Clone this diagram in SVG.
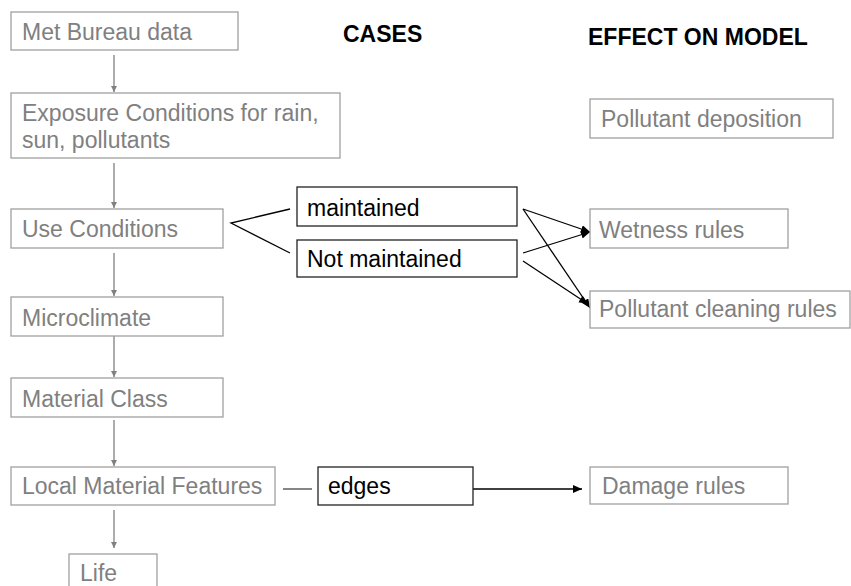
<svg xmlns="http://www.w3.org/2000/svg" width="851" height="586" viewBox="0 0 851 586">
<style>
text{font-family:"Liberation Sans",Arial,sans-serif;font-size:23px}
.g rect{fill:#fff;stroke:#a0a0a0;stroke-width:1.3}
.g text{fill:#808080}
.k rect{fill:#fff;stroke:#222;stroke-width:1.3}
.k text{fill:#000}
.h{font-weight:bold;fill:#000}
.cg{stroke:#808080;stroke-width:1.3;fill:none}
.ck{stroke:#000;stroke-width:1.3;fill:none}
</style>
<defs>
<marker id="ag" markerWidth="8" markerHeight="8" refX="6" refY="3" orient="auto" markerUnits="userSpaceOnUse" viewBox="0 0 8 8"><path d="M0,0 L6,3 L0,6 z" fill="#808080"/></marker>
<marker id="ak" markerWidth="12" markerHeight="10" refX="9" refY="4" orient="auto" markerUnits="userSpaceOnUse" viewBox="0 0 12 10"><path d="M0,0 L9,4 L0,8 z" fill="#000"/></marker>
</defs>
<text class="h" x="343" y="42">CASES</text>
<text class="h" x="588" y="45">EFFECT ON MODEL</text>
<g id="connectors">
<line class="cg" x1="114" y1="55" x2="114" y2="92" marker-end="url(#ag)"/>
<line class="cg" x1="114" y1="163" x2="114" y2="208" marker-end="url(#ag)"/>
<line class="cg" x1="114" y1="253" x2="114" y2="296" marker-end="url(#ag)"/>
<line class="cg" x1="114" y1="336" x2="114" y2="377" marker-end="url(#ag)"/>
<line class="cg" x1="114" y1="420" x2="114" y2="466" marker-end="url(#ag)"/>
<line class="cg" x1="114" y1="510" x2="114" y2="548" marker-end="url(#ag)"/>
<polyline class="ck" points="290,209 231,223 290,253"/>
<line class="cg" x1="283" y1="489" x2="312" y2="489" style="stroke:#444"/>
<line class="ck" x1="473" y1="489" x2="582" y2="489" marker-end="url(#ak)"/>
<line class="ck" x1="523" y1="209" x2="590" y2="232" marker-end="url(#ak)"/>
<line class="ck" x1="523" y1="209" x2="590" y2="308" marker-end="url(#ak)"/>
<line class="ck" x1="523" y1="253" x2="590" y2="232" marker-end="url(#ak)"/>
<line class="ck" x1="523" y1="261" x2="588" y2="304" marker-end="url(#ak)"/>
</g>
<g id="met" class="g"><rect x="11" y="12" width="227" height="38"/><text x="22" y="40">Met Bureau data</text></g>
<g id="exposure" class="g"><rect x="11" y="93" width="329" height="65"/><text x="22" y="121">Exposure Conditions for rain,</text><text x="22" y="148">sun, pollutants</text></g>
<g id="use" class="g"><rect x="11" y="209" width="212" height="39"/><text x="22" y="237">Use Conditions</text></g>
<g id="micro" class="g"><rect x="11" y="297" width="212" height="39"/><text x="22" y="326">Microclimate</text></g>
<g id="matclass" class="g"><rect x="11" y="378" width="212" height="39"/><text x="22" y="407">Material Class</text></g>
<g id="local" class="g"><rect x="11" y="467" width="264" height="38"/><text x="22" y="494">Local Material Features</text></g>
<g id="life" class="g"><rect x="69" y="554" width="88" height="40"/><text x="80" y="581">Life</text></g>
<g id="maintained" class="k"><rect x="297" y="187" width="220" height="39"/><text x="307" y="216">maintained</text></g>
<g id="notmaintained" class="k"><rect x="297" y="240" width="220" height="37"/><text x="307" y="267">Not maintained</text></g>
<g id="edges" class="k"><rect x="318" y="467" width="155" height="38"/><text x="328" y="494">edges</text></g>
<g id="deposition" class="g"><rect x="590" y="99" width="243" height="39"/><text x="601" y="127">Pollutant deposition</text></g>
<g id="wetness" class="g"><rect x="590" y="209" width="198" height="39"/><text x="599" y="238">Wetness rules</text></g>
<g id="cleaning" class="g"><rect x="590" y="291" width="260" height="37"/><text x="599" y="317">Pollutant cleaning rules</text></g>
<g id="damage" class="g"><rect x="590" y="467" width="198" height="37"/><text x="602" y="494">Damage rules</text></g>
</svg>
